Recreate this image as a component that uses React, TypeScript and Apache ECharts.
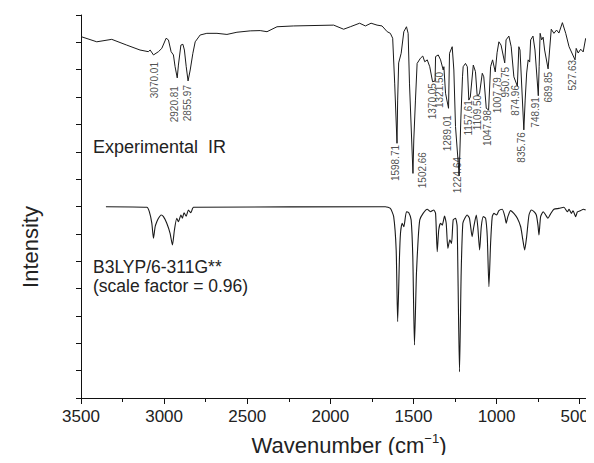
import React, { useEffect, useRef } from "react";
import * as echarts from "echarts";

const FONT = '"Liberation Sans", Arial, Helvetica, sans-serif';

// Experimental IR spectrum (wavenumber cm-1, intensity in axis units)
const expWavenumber = [
  3500, 3405, 3315, 3225, 3145, 3095, 3084, 3064, 3034, 3014, 2988, 2974, 2958, 2944, 2934, 2921, 2914, 2899, 2887, 2878,
  2867, 2856, 2843, 2827, 2813, 2783, 2743, 2682, 2622, 2562, 2482, 2422, 2381, 2321, 2221, 1980, 1920, 1880, 1824, 1789,
  1755, 1719, 1689, 1658, 1639, 1625, 1613, 1599, 1595, 1589, 1574, 1558, 1542, 1532, 1524, 1503, 1498, 1488, 1478, 1458,
  1444, 1432, 1417, 1402, 1385, 1370, 1367, 1351, 1337, 1321, 1317, 1307, 1289, 1283, 1267, 1257, 1247, 1225, 1215, 1205,
  1201, 1187, 1176, 1167, 1158, 1140, 1127, 1117, 1110, 1102, 1086, 1077, 1062, 1048, 1036, 1024, 1008, 997, 986, 973,
  951, 943, 926, 912, 896, 875, 866, 859, 836, 828, 819, 810, 801, 795, 781, 769, 749, 744, 738, 729,
  720, 711, 690, 681, 671, 655, 639, 625, 604, 584, 564, 528, 521, 509, 494, 479, 464,
];
const expIntensity = [
  13.21, 13.02, 13.11, 12.9, 12.72, 12.66, 12.72, 12.54, 12.66, 12.78, 13.15, 13.09, 12.66, 12.54, 12.11, 11.7, 12.17, 12.9, 12.93, 12.72,
  12.11, 11.59, 11.99, 12.6, 13.02, 13.27, 13.33, 13.33, 13.29, 13.37, 13.42, 13.43, 13.39, 13.57, 13.6, 13.63, 13.48, 13.57, 13.7, 13.6,
  13.7, 13.63, 13.6, 13.39, 13.33, 13.15, 11.51, 9.31, 10.89, 12.25, 12.6, 13.39, 13.57, 13.33, 11.51, 8.21, 9.43, 10.89, 12.23, 12.42,
  12.5, 12.29, 12.36, 12.11, 11.56, 11.59, 12.48, 12.54, 12.36, 11.99, 12.11, 11.14, 10.59, 12.6, 12.84, 11.99, 9.92, 8.12, 10.2, 11.74,
  12.11, 12.23, 12.11, 10.89, 11.0, 12.17, 11.93, 11.08, 11.05, 11.15, 11.87, 11.74, 10.59, 10.53, 12.11, 12.36, 11.92, 12.62, 13.02, 12.9,
  12.25, 13.09, 13.23, 12.84, 11.74, 11.4, 12.84, 12.72, 9.8, 10.89, 11.88, 12.36, 12.28, 13.09, 13.23, 12.72, 11.05, 12.11, 13.33, 13.09,
  13.19, 12.72, 12.03, 12.72, 13.48, 13.33, 13.45, 13.34, 13.72, 13.33, 12.84, 12.36, 12.78, 12.61, 12.75, 12.65, 13.15,
];

// Calculated B3LYP/6-311G** spectrum
const calcWavenumber = [
  3350, 3104, 3089, 3074, 3064, 3054, 3044, 3034, 3018, 3004, 2984, 2964, 2950, 2938, 2924, 2914, 2899, 2890, 2880, 2867,
  2854, 2839, 2823, 1669, 1639, 1619, 1604, 1595, 1584, 1578, 1568, 1558, 1542, 1528, 1514, 1504, 1494, 1482, 1472, 1462,
  1442, 1417, 1398, 1378, 1367, 1357, 1348, 1337, 1327, 1313, 1303, 1293, 1281, 1271, 1261, 1247, 1237, 1223, 1213, 1203,
  1191, 1177, 1163, 1147, 1137, 1122, 1113, 1102, 1092, 1080, 1066, 1056, 1046, 1036, 1026, 1016, 1000, 986, 966, 950,
  942, 932, 916, 896, 875, 855, 842, 831, 819, 805, 791, 775, 761, 751, 745, 735, 719, 705, 691, 675,
  655, 625, 595, 574, 564, 550, 540, 524, 514, 494, 478, 464,
];
const calcIntensity = [
  6.99, 6.97, 6.81, 6.39, 5.84, 6.26, 6.44, 6.57, 6.69, 6.63, 6.39, 6.02, 5.59, 6.14, 6.57, 6.44, 6.69, 6.57, 6.77, 6.65,
  6.87, 6.77, 6.97, 6.99, 6.93, 6.63, 5.41, 2.79, 5.17, 6.02, 6.39, 6.26, 6.81, 6.77, 6.51, 5.17, 1.94, 4.56, 5.78, 6.51,
  6.75, 6.9, 6.81, 6.87, 6.75, 5.35, 6.14, 6.39, 6.32, 6.65, 6.39, 5.47, 5.78, 5.65, 6.51, 6.57, 6.26, 0.96, 4.56, 6.39,
  6.57, 6.69, 6.57, 5.9, 6.26, 6.69, 6.26, 5.41, 6.26, 6.63, 6.57, 5.9, 4.07, 5.65, 6.63, 6.75, 6.69, 6.85, 6.9, 6.63,
  6.39, 6.63, 6.85, 6.75, 6.57, 6.26, 5.78, 5.41, 5.9, 6.69, 6.87, 6.81, 6.69, 6.32, 5.96, 6.63, 6.81, 6.69, 6.57, 6.73,
  6.9, 6.93, 6.97, 6.81, 6.9, 6.75, 6.84, 6.63, 6.8, 6.85, 6.9, 6.87,
];

// Peak annotations on the experimental spectrum
const peakLabels = [
  "3070.01", "2920.81", "2855.97", "1598.71", "1502.66", "1370.05", "1321.50", "1289.01", "1224.64", "1157.61",
  "1109.50", "1047.98", "1007.79", "950.75", "874.96", "835.76", "748.91", "689.85", "527.63",
];
const peakLabelX = [3058, 2938, 2857, 1608, 1448, 1387, 1342, 1297, 1233, 1167, 1113, 1056, 996, 946, 886, 849, 763, 685, 544];
const peakLabelTop = [12.28, 11.4, 11.44, 9.25, 8.99, 11.51, 11.92, 10.34, 8.81, 10.89, 11.08, 10.53, 11.73, 12.1, 11.44, 9.72, 11.0, 11.92, 12.36];

const xMajorTicks = [500, 1000, 1500, 2000, 2500, 3000, 3500];
const xMinorTicks = [750, 1250, 1750, 2250, 2750, 3250];

const zip = (a: number[], b: number[]) => a.map((v, i) => [v, b[i]]);

export default function App() {
  const ref = useRef<HTMLDivElement>(null);
  useEffect(() => {
    if (!ref.current) return;
    const chart = echarts.init(ref.current, null, { renderer: "svg" });
    const axisBase = {
      type: "value" as const,
      min: 450,
      max: 3500,
      inverse: true,
      splitLine: { show: false },
    };
    chart.setOption({
      animation: false,
      grid: { left: 81, right: 6, top: 15, bottom: 65, containLabel: false, outerBoundsMode: "none" },
      xAxis: [
        {
          ...axisBase,
          position: "bottom",
          axisLine: { show: true, lineStyle: { color: "#111", width: 1 } },
          axisTick: { show: true, customValues: xMajorTicks, length: 6, lineStyle: { color: "#111" } },
          axisLabel: {
            show: true,
            customValues: xMajorTicks,
            fontSize: 17,
            fontFamily: FONT,
            color: "#222",
            margin: 10,
            formatter: (v: number) => (v === 500 ? "{e|500}" : String(v)),
            rich: { e: { fontSize: 17, fontFamily: FONT, color: "#222", padding: [0, 10, 0, 0] } },
          },
        },
        {
          ...axisBase,
          position: "bottom",
          offset: 0,
          axisLine: { show: false },
          axisTick: { show: true, customValues: xMinorTicks, length: 4, lineStyle: { color: "#111" } },
          axisLabel: { show: false },
        },
      ],
      yAxis: {
        type: "value",
        min: 0,
        max: 14,
        interval: 1,
        axisLine: { show: true, lineStyle: { color: "#111", width: 1 } },
        axisTick: { show: true, length: 5, lineStyle: { color: "#111" } },
        axisLabel: { show: false },
        splitLine: { show: false },
      },
      series: [
        {
          type: "line",
          name: "Experimental IR",
          data: zip(expWavenumber, expIntensity),
          showSymbol: false,
          symbol: "none",
          lineStyle: { color: "#1a1a1a", width: 1 },
          silent: true,
        },
        {
          type: "line",
          name: "B3LYP/6-311G**",
          data: zip(calcWavenumber, calcIntensity),
          showSymbol: false,
          symbol: "none",
          smooth: 0.2,
          lineStyle: { color: "#1a1a1a", width: 1.1 },
          silent: true,
        },
        {
          type: "scatter",
          name: "peaks",
          data: zip(peakLabelX, peakLabelTop),
          symbolSize: 1,
          itemStyle: { color: "rgba(0,0,0,0)" },
          silent: true,
          label: {
            show: true,
            position: "inside",
            rotate: 90,
            align: "right",
            verticalAlign: "middle",
            fontSize: 10,
            fontFamily: FONT,
            color: "#222",
            formatter: (p: any) => peakLabels[p.dataIndex],
          },
        },
      ],
      graphic: [
        {
          type: "text",
          x: 93,
          y: 147,
          style: { text: "Experimental  IR", font: `18px ${FONT}`, fill: "#222", textVerticalAlign: "middle" },
        },
        {
          type: "text",
          x: 93,
          y: 267,
          style: { text: "B3LYP/6-311G**", font: `17.5px ${FONT}`, fill: "#222", textVerticalAlign: "middle" },
        },
        {
          type: "text",
          x: 93,
          y: 285.5,
          style: { text: "(scale factor = 0.96)", font: `17.5px ${FONT}`, fill: "#222", textVerticalAlign: "middle" },
        },
        {
          type: "text",
          x: 30,
          y: 247,
          rotation: Math.PI / 2,
          style: {
            text: "Intensity",
            font: `22px ${FONT}`,
            fill: "#222",
            textAlign: "center",
            textVerticalAlign: "middle",
          },
        },
        {
          type: "text",
          x: 349,
          y: 445,
          style: {
            text: "{a|Wavenumber (cm}{s|−1}{a|)}",
            textAlign: "center",
            textVerticalAlign: "middle",
            rich: {
              a: { fontSize: 22, fontFamily: FONT, fill: "#222" },
              s: { fontSize: 13, fontFamily: FONT, fill: "#222", verticalAlign: "top", padding: [0, 0, 14, 0] },
            },
          },
        },
      ],
    });
    return () => chart.dispose();
  }, []);
  return <div ref={ref} style={{ width: 594, height: 463, margin: -8 }} />;
}
